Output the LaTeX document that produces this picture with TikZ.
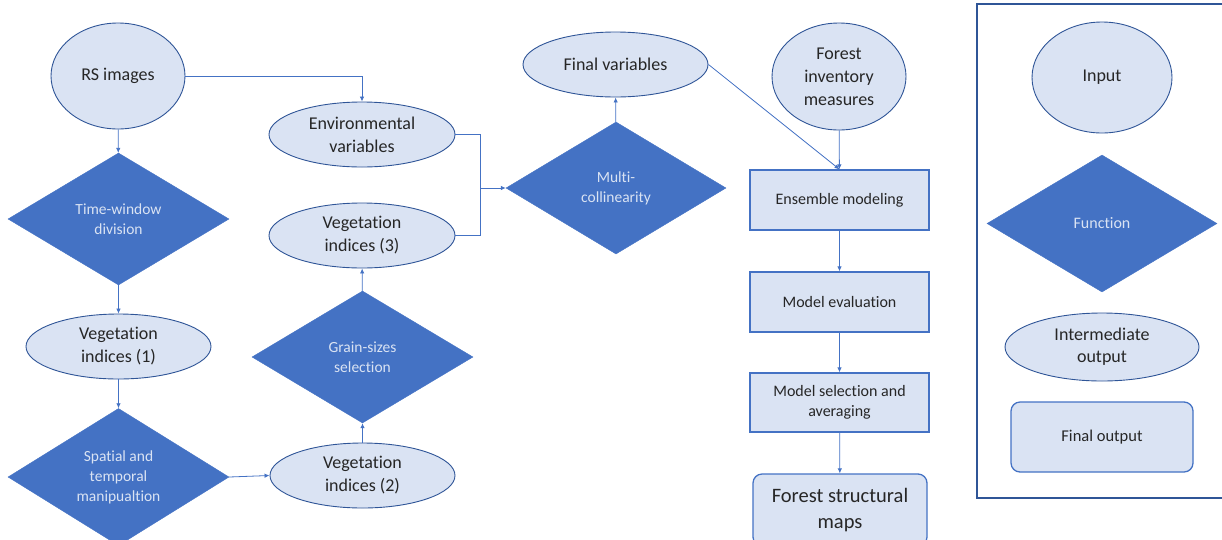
\documentclass[tikz,border=0pt]{standalone}
\usepackage{fontspec}
\setmainfont[Ligatures={NoCommon}]{Carlito}
\usetikzlibrary{shapes.geometric,arrows.meta}
\definecolor{fillpale}{HTML}{DAE3F3}
\definecolor{edgedark}{HTML}{2F5597}
\definecolor{accent}{HTML}{4472C4}
\definecolor{inktext}{HTML}{262626}
\tikzset{
  inputnode/.style={ellipse, draw=edgedark, fill=fillpale, line width=0.9pt, inner sep=0pt,
    text=inktext, align=center, font=\fontsize{18}{23}\selectfont},
  midnode/.style={inputnode},
  funcnode/.style={diamond, fill=accent, draw=accent, inner sep=0pt, text=fillpale,
    align=center, font=\fontsize{15.5}{20}\selectfont},
  procbox/.style={rectangle, draw=accent, fill=fillpale, line width=1.3pt, inner sep=0pt,
    text=inktext, align=center, font=\fontsize{16}{20}\selectfont},
  outbox/.style={rectangle, rounded corners=9pt, draw=accent, fill=fillpale, line width=1.3pt,
    inner sep=0pt, text=inktext, align=center},
  flow/.style={draw=accent, line width=0.8pt, -{Latex[length=5pt,width=4.5pt]}},
  joinline/.style={draw=accent, line width=0.8pt},
}
\begin{document}
\begin{tikzpicture}[x=1pt,y=-1pt]
\useasboundingbox (0,0) rectangle (1222,539);

% left column
\node[inputnode, minimum width=134pt, minimum height=106pt] (rs) at (118,76) {RS images};
\node[funcnode, minimum width=221pt, minimum height=132pt] (tw) at (118.5,219) {Time-window\\division};
\node[midnode, minimum width=185pt, minimum height=65pt] (vi1) at (118.5,346.5) {Vegetation\\indices (1)};
\node[funcnode, minimum width=221pt, minimum height=132pt] (stm) at (118.5,477) {Spatial and\\temporal\\manipualtion};

% second column
\node[midnode, minimum width=186pt, minimum height=65pt] (env) at (362,134.5) {Environmental\\variables};
\node[midnode, minimum width=186pt, minimum height=65pt] (vi3) at (362,235.5) {Vegetation\\indices (3)};
\node[funcnode, minimum width=221pt, minimum height=132pt] (gs) at (362.5,357) {Grain-sizes\\selection};
\node[midnode, minimum width=185pt, minimum height=65pt] (vi2) at (362.5,475.5) {Vegetation\\indices (2)};

% third column
\node[midnode, minimum width=185pt, minimum height=65pt] (fv) at (615.5,64.5) {Final variables};
\node[funcnode, minimum width=220pt, minimum height=132pt] (mc) at (616,188) {Multi-\\collinearity};

% modelling column
\node[inputnode, minimum width=134pt, minimum height=107pt] (fim) at (839,76.5) {Forest\\inventory\\measures};
\node[procbox, minimum width=179pt, minimum height=60pt] (ens) at (839.5,200) {Ensemble modeling};
\node[procbox, minimum width=179pt, minimum height=60pt] (mev) at (839.5,302) {Model evaluation};
\node[procbox, minimum width=179pt, minimum height=59pt] (msa) at (839.5,402.5) {Model selection and\\averaging};
\node[outbox, minimum width=174pt, minimum height=72pt, font=\fontsize{20.5}{26.5}\selectfont] (fsm) at (840,510) {Forest structural\\maps};

% connectors
\draw[flow] (rs) -- (tw);
\draw[flow] (tw) -- (vi1);
\draw[flow] (vi1) -- (stm);
\draw[flow] (stm.east) -- (vi2.west);
\draw[flow] (vi2) -- (gs);
\draw[flow] (gs) -- (vi3);
\draw[flow] (rs.east) -| (env.north);
\coordinate (jn) at (480,188);
\draw[joinline] (env.east) -| (jn);
\draw[joinline] (vi3.east) -| (jn);
\draw[flow] (jn) -- (mc.west);
\draw[flow] (mc) -- (fv);
\draw[flow] (fv.east) -- (ens.north);
\draw[flow] (fim) -- (ens);
\draw[flow] (ens) -- (mev);
\draw[flow] (mev) -- (msa);
\draw[flow] (msa) -- (fsm);

% legend
\node[draw=edgedark, line width=2.4pt, minimum width=248pt, minimum height=494pt, inner sep=0pt] (legend) at (1101,251) {};
\node[inputnode, minimum width=140pt, minimum height=111pt] (lin) at (1102,77.5) {Input};
\node[funcnode, minimum width=230pt, minimum height=137pt, font=\fontsize{16}{20}\selectfont] (lfn) at (1102,223.5) {Function};
\node[midnode, minimum width=194pt, minimum height=68pt, font=\fontsize{18}{22}\selectfont] (lmid) at (1102,347) {Intermediate\\output};
\node[outbox, minimum width=182pt, minimum height=70pt, font=\fontsize{16.5}{20}\selectfont] (lfin) at (1102,437) {Final output};
\end{tikzpicture}
\end{document}
